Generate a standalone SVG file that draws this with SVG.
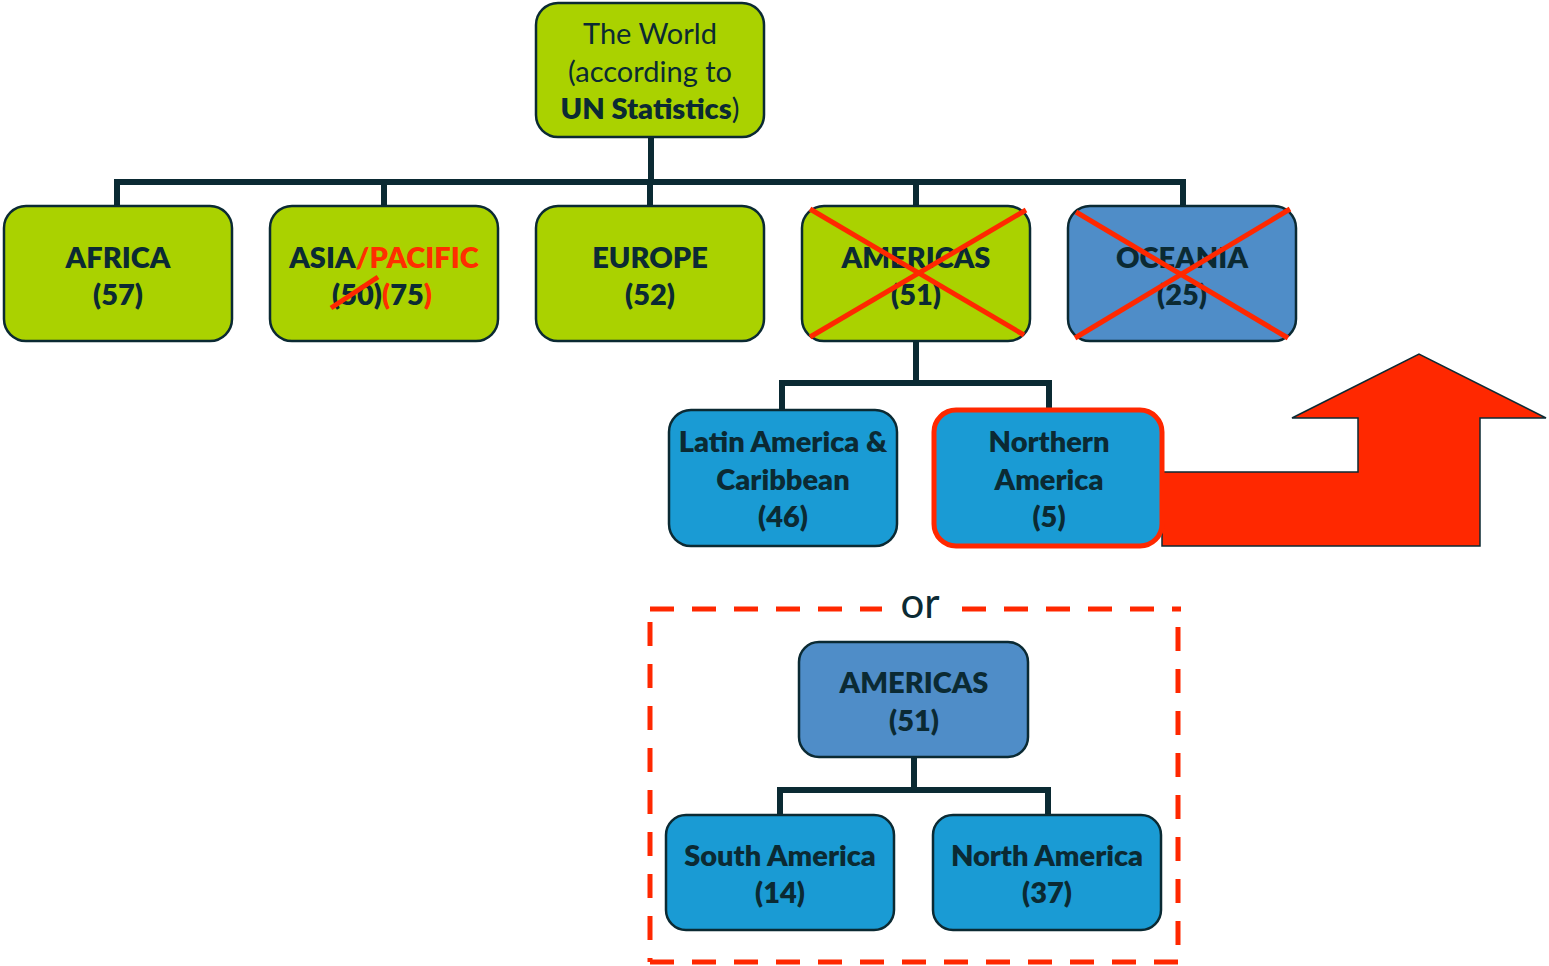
<svg xmlns="http://www.w3.org/2000/svg" width="1549" height="966" viewBox="0 0 1549 966">
<style>
.node{stroke:#0B2A33;stroke-width:2.5}
.green{fill:#AAD200}
.blue{fill:#4F8DC8}
.lblue{fill:#1A9BD4}
.conn{fill:none;stroke:#0B2A33;stroke-width:6}
.t{font-family:Lato,"Liberation Sans",sans-serif;font-size:29px;font-weight:800;fill:#0B2A33;text-anchor:middle}
.n{font-weight:normal}
.red{fill:#FF2E00}
.x{stroke:#FF2800;stroke-width:5;stroke-linecap:butt}
.dash{stroke:#FF2800;stroke-width:5;stroke-dasharray:24 18;fill:none}
</style>
<rect width="1549" height="966" fill="#ffffff"/>
<g id="connectors">
<path class="conn" d="M651 137V182M117 206V182H1183V206M384 182V206M650 182V206M916 182V206"/>
<path class="conn" d="M916 341V383M782 410V383H1049V410"/>
<path class="conn" d="M914 757V790M780 815V790H1048V815"/>
</g>
<g id="world">
<rect class="node green" x="536" y="3" width="228" height="134" rx="22"/>
<text class="t n" x="650" y="44">The World</text>
<text class="t n" x="650" y="82">(according to</text>
<text class="t" x="650" y="119">UN Statistics<tspan class="n">)</tspan></text>
</g>
<g id="africa">
<rect class="node green" x="4" y="206" width="228" height="135" rx="22"/>
<text class="t" x="118" y="268">AFRICA</text>
<text class="t" x="118" y="305">(57)</text>
</g>
<g id="asia">
<rect class="node green" x="270" y="206" width="228" height="135" rx="22"/>
<text class="t" x="384" y="268">ASIA<tspan class="red">/PACIFIC</tspan></text>
<text class="t" x="382" y="305">(50)<tspan class="red">(</tspan>75<tspan class="red">)</tspan></text>
<line class="x" x1="331" y1="308" x2="378" y2="277"/>
</g>
<g id="europe">
<rect class="node green" x="536" y="206" width="228" height="135" rx="22"/>
<text class="t" x="650" y="268">EUROPE</text>
<text class="t" x="650" y="305">(52)</text>
</g>
<g id="americas">
<rect class="node green" x="802" y="206" width="228" height="135" rx="22"/>
<text class="t" x="916" y="268">AMERICAS</text>
<text class="t" x="916" y="305">(51)</text>
<line class="x" x1="810" y1="209" x2="1024" y2="335"/>
<line class="x" x1="810" y1="337" x2="1026" y2="210"/>
</g>
<g id="oceania">
<rect class="node blue" x="1068" y="206" width="228" height="135" rx="22"/>
<text class="t" x="1182" y="268">OCEANIA</text>
<text class="t" x="1182" y="305">(25)</text>
<line class="x" x1="1076" y1="212" x2="1288" y2="338"/>
<line class="x" x1="1075" y1="338" x2="1290" y2="209"/>
</g>
<g id="latin">
<rect class="node lblue" x="669" y="410" width="228" height="136" rx="22"/>
<text class="t" x="783" y="452">Latin America &amp;</text>
<text class="t" x="783" y="490">Caribbean</text>
<text class="t" x="783" y="527">(46)</text>
</g>
<g id="arrow">
<polygon points="1162,472 1358,472 1358,418 1292,418 1419,354 1546,418 1480,418 1480,546 1162,546" fill="#FF2800" stroke="#0B2A33" stroke-width="1.5"/>
</g>
<g id="northern">
<rect x="934" y="410" width="228" height="136" rx="22" fill="#1A9BD4" stroke="#FF2800" stroke-width="5"/>
<text class="t" x="1049" y="452">Northern</text>
<text class="t" x="1049" y="490">America</text>
<text class="t" x="1049" y="527">(5)</text>
</g>
<g id="alternative">
<line class="dash" x1="650" y1="609" x2="882" y2="609"/>
<line class="dash" x1="962" y1="609" x2="1181" y2="609" stroke-dasharray="6 12 24 18 24 18 24 18 24 18 24 18 24 18"/>
<line class="dash" x1="650" y1="622" x2="650" y2="962"/>
<line class="dash" x1="1178" y1="627" x2="1178" y2="962"/>
<line class="dash" x1="650" y1="962" x2="1178" y2="962"/>
<text class="t n" x="920" y="618" style="font-size:42px">or</text>
</g>
<g id="americas2">
<rect class="node blue" x="799" y="642" width="229" height="115" rx="20"/>
<text class="t" x="914" y="693">AMERICAS</text>
<text class="t" x="914" y="731">(51)</text>
</g>
<g id="south">
<rect class="node lblue" x="666" y="815" width="228" height="115" rx="20"/>
<text class="t" x="780" y="866">South America</text>
<text class="t" x="780" y="903">(14)</text>
</g>
<g id="north">
<rect class="node lblue" x="933" y="815" width="228" height="115" rx="20"/>
<text class="t" x="1047" y="866">North America</text>
<text class="t" x="1047" y="903">(37)</text>
</g>
</svg>
